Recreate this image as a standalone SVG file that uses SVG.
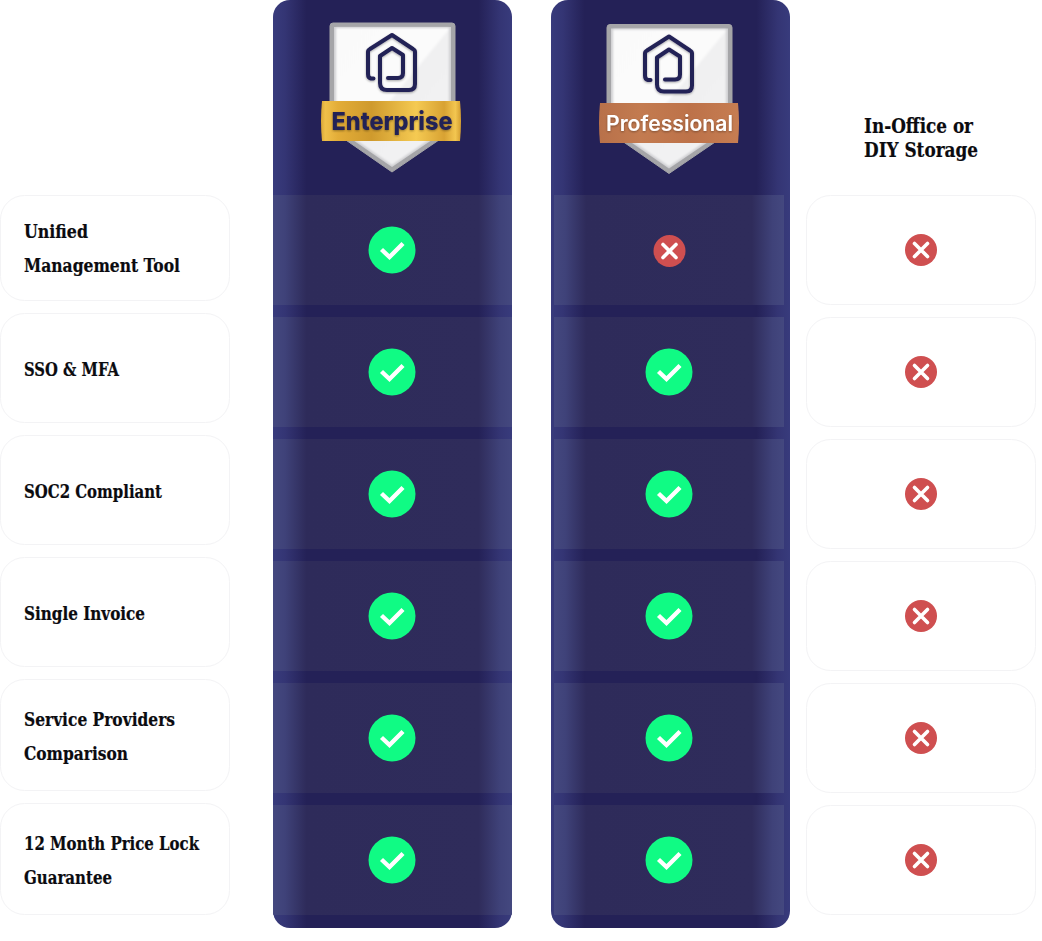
<svg xmlns="http://www.w3.org/2000/svg" width="1042" height="941" viewBox="0 0 1042 941">
<style>
.card{fill:#fff;stroke:#f3f3f5;stroke-width:1}
.lbl{font-family:"DejaVu Serif","Liberation Serif",serif;font-weight:700;font-size:18px;fill:#0b0b0f;stroke:#0b0b0f;stroke-width:.2}
.hdr{font-size:20px}
.band{fill:url(#bandG)}
.col{fill:url(#colG)}
.ok{fill:#10fb84}
.okm{fill:none;stroke:#fff;stroke-width:4.4}
.no{fill:#cf4f50}
.nom{fill:none;stroke:#fff;stroke-width:3.6;stroke-linecap:round}
.ico{fill:none;stroke:#232056;stroke-width:4;stroke-linejoin:round;stroke-linecap:round;filter:url(#soft)}
.ename{font-family:Inter,"Liberation Sans",sans-serif;font-weight:800;font-size:25px;fill:#232056;filter:url(#soft)}
.pname{font-family:Inter,"Liberation Sans",sans-serif;font-weight:600;font-size:21px;fill:#fff;filter:url(#soft)}
</style>
<defs>
<filter id="soft" x="-10%" y="-20%" width="120%" height="140%"><feDropShadow dx="0" dy="1" stdDeviation=".8" flood-color="#000" flood-opacity=".35"/></filter>
<filter id="inner" x="-5%" y="-5%" width="110%" height="110%"><feGaussianBlur stdDeviation="1.200"/></filter>
<linearGradient id="colG" x1="0" x2="1" y1="0" y2="0">
<stop offset="0" stop-color="#383b7c"/><stop offset=".05" stop-color="#343574"/><stop offset=".14" stop-color="#242157"/><stop offset=".86" stop-color="#242157"/><stop offset=".95" stop-color="#343574"/><stop offset="1" stop-color="#383b7c"/>
</linearGradient>
<linearGradient id="bandG" x1="0" x2="1" y1="0" y2="0">
<stop offset="0" stop-color="#44487f"/><stop offset=".05" stop-color="#3f4279"/><stop offset=".14" stop-color="#2e2b5a"/><stop offset=".86" stop-color="#2f2c5b"/><stop offset=".95" stop-color="#3f4279"/><stop offset="1" stop-color="#44487f"/>
</linearGradient>
<linearGradient id="shieldG" x1="0" x2="1" y1="0" y2="1">
<stop offset="0" stop-color="#fafafa"/><stop offset=".5" stop-color="#fbfbfb"/><stop offset=".51" stop-color="#f0f0f1"/><stop offset="1" stop-color="#f3f3f4"/>
</linearGradient>
<linearGradient id="gold" x1="0" x2="1" y1="0" y2="0">
<stop offset="0" stop-color="#d9a637"/><stop offset=".03" stop-color="#f0c04a"/><stop offset=".12" stop-color="#e3ad38"/><stop offset=".36" stop-color="#cf9a2d"/><stop offset=".68" stop-color="#f5ca52"/><stop offset=".88" stop-color="#d8a233"/><stop offset=".96" stop-color="#f3c650"/><stop offset="1" stop-color="#d29c30"/>
</linearGradient>
<linearGradient id="copper" x1="0" x2="1" y1="0" y2="0">
<stop offset="0" stop-color="#b8714a"/><stop offset=".3" stop-color="#c37b50"/><stop offset=".65" stop-color="#bd7249"/><stop offset="1" stop-color="#c67d52"/>
</linearGradient>
<g id="shield">
<path d="M333 23H452Q455 23 455 26V129L392 172L330 129V26Q330 23 333 23Z" fill="#a5a5a8" stroke="#a5a5a8" stroke-linejoin="round"/>
<path d="M334 27H451V127L392 167L334 127Z" fill="#cfcfd2"/>
<path d="M336 28H449V126L392 165L336 126Z" fill="url(#shieldG)" filter="url(#inner)"/>
<path class="ico" d="M373.500 78.500H371Q368 78 368 74V52Q368 50 370 49L392 35L413 49Q415 50 415 52V84Q415 90 409 90H387Q380 90 380 83V56L392 48L403 55V73Q403 78 398 78H388"/>
</g>
<g id="chk"><circle class="ok" r="23.500"/><path class="okm" d="M-10.500-.5L-2.500 7L11-6.500"/></g>
<g id="x"><circle class="no" r="16"/><path class="nom" d="M-6.500-6.500L6.500 6.500M6.500-6.500L-6.500 6.500"/></g>
</defs>
<rect width="1042" height="941" fill="#fff"/>

<g id="col-enterprise">
<rect class="col" x="273" y="0" width="239" height="928" rx="17"/>
<rect class="band" x="273" y="195" width="239" height="110"/>
<rect class="band" x="273" y="317" width="239" height="110"/>
<rect class="band" x="273" y="439" width="239" height="110"/>
<rect class="band" x="273" y="561" width="239" height="110"/>
<rect class="band" x="273" y="683" width="239" height="110"/>
<path class="band" d="M273 805H512V914.500L511 915H274L273 914.500Z"/>
<use href="#shield"/>
<path d="M322 101H460Q462 121 460 141H322Q320 121 322 101Z" fill="url(#gold)"/>
<text class="ename" x="392" y="129.500" text-anchor="middle" textLength="121" lengthAdjust="spacingAndGlyphs">Enterprise</text>
<use href="#chk" x="392" y="250"/><use href="#chk" x="392" y="372"/><use href="#chk" x="392" y="494"/><use href="#chk" x="392" y="616"/><use href="#chk" x="392" y="738"/><use href="#chk" x="392" y="860"/>
</g>

<g id="col-professional">
<rect class="col" x="551" y="0" width="239" height="928" rx="17"/>
<rect class="band" x="554" y="195" width="230" height="110"/>
<rect class="band" x="554" y="317" width="230" height="110"/>
<rect class="band" x="554" y="439" width="230" height="110"/>
<rect class="band" x="554" y="561" width="230" height="110"/>
<rect class="band" x="554" y="683" width="230" height="110"/>
<rect class="band" x="554" y="805" width="230" height="110"/>
<use href="#shield" x="277" y="1.500"/>
<path d="M600 103H738Q740 123 738 143H600Q598 123 600 103Z" fill="url(#copper)"/>
<text class="pname" x="669.500" y="131" text-anchor="middle" textLength="127" lengthAdjust="spacingAndGlyphs">Professional</text>
<use href="#x" x="669.500" y="251"/><use href="#chk" x="669" y="372"/><use href="#chk" x="669" y="494"/><use href="#chk" x="669" y="616"/><use href="#chk" x="669" y="738"/><use href="#chk" x="669" y="860"/>
</g>

<g id="col-diy">
<text class="lbl hdr" x="864" y="132.500" textLength="109" lengthAdjust="spacingAndGlyphs">In-Office or</text>
<text class="lbl hdr" x="864" y="156.500" textLength="114" lengthAdjust="spacingAndGlyphs">DIY Storage</text>
<rect class="card" x="806.500" y="195.500" width="229" height="109" rx="24"/><use href="#x" x="921" y="250"/>
<rect class="card" x="806.500" y="317.500" width="229" height="109" rx="24"/><use href="#x" x="921" y="372"/>
<rect class="card" x="806.500" y="439.500" width="229" height="109" rx="24"/><use href="#x" x="921" y="494"/>
<rect class="card" x="806.500" y="561.500" width="229" height="109" rx="24"/><use href="#x" x="921" y="616"/>
<rect class="card" x="806.500" y="683.500" width="229" height="109" rx="24"/><use href="#x" x="921" y="738"/>
<rect class="card" x="806.500" y="805.500" width="229" height="109" rx="24"/><use href="#x" x="921" y="860"/>
</g>

<g id="feature-unified"><rect class="card" x=".5" y="195.500" width="229" height="105" rx="24"/><text class="lbl" x="24" y="238" textLength="64" lengthAdjust="spacingAndGlyphs">Unified</text><text class="lbl" x="24" y="272" textLength="156" lengthAdjust="spacingAndGlyphs">Management Tool</text></g>
<g id="feature-sso"><rect class="card" x=".5" y="313.500" width="229" height="109" rx="24"/><text class="lbl" x="24" y="375.500" textLength="95" lengthAdjust="spacingAndGlyphs">SSO &amp; MFA</text></g>
<g id="feature-soc2"><rect class="card" x=".5" y="435.500" width="229" height="109" rx="24"/><text class="lbl" x="24" y="497.500" textLength="138" lengthAdjust="spacingAndGlyphs">SOC2 Compliant</text></g>
<g id="feature-invoice"><rect class="card" x=".5" y="557.500" width="229" height="109" rx="24"/><text class="lbl" x="24" y="619.500" textLength="121" lengthAdjust="spacingAndGlyphs">Single Invoice</text></g>
<g id="feature-providers"><rect class="card" x=".5" y="679.500" width="229" height="111" rx="24"/><text class="lbl" x="24" y="725.500" textLength="151" lengthAdjust="spacingAndGlyphs">Service Providers</text><text class="lbl" x="24" y="759.500" textLength="104" lengthAdjust="spacingAndGlyphs">Comparison</text></g>
<g id="feature-pricelock"><rect class="card" x=".5" y="803.500" width="229" height="111" rx="24"/><text class="lbl" x="24" y="849.500" textLength="175" lengthAdjust="spacingAndGlyphs">12 Month Price Lock</text><text class="lbl" x="24" y="883.500" textLength="88" lengthAdjust="spacingAndGlyphs">Guarantee</text></g>
<g id="connectors"/>
</svg>
